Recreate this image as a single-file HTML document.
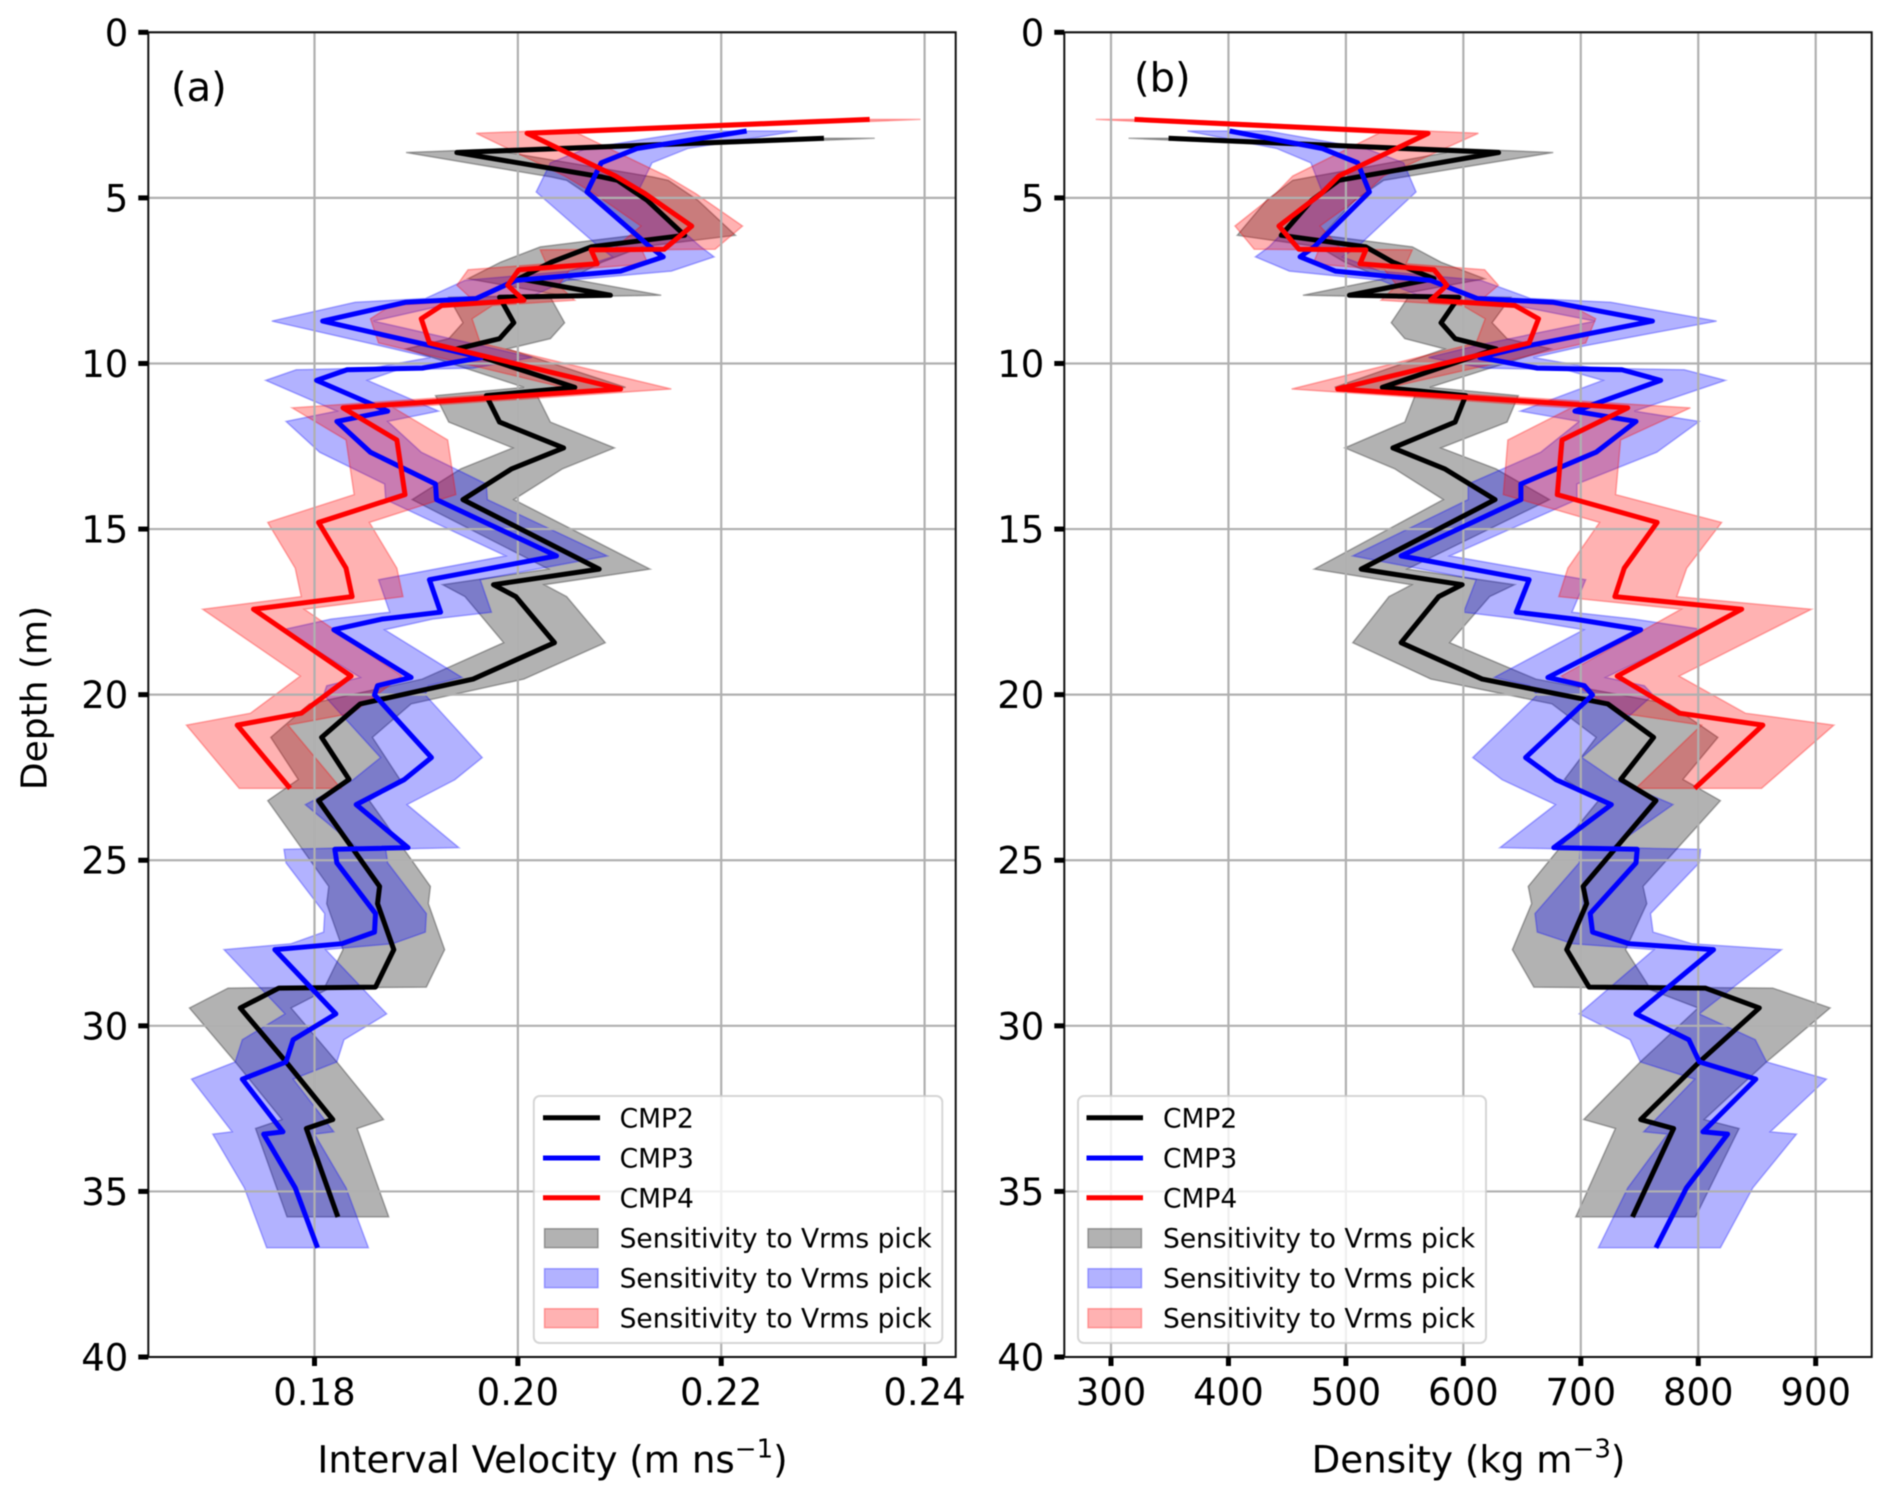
<!DOCTYPE html>
<html lang="en">
<head>
<meta charset="utf-8">
<title>Interval velocity and density versus depth</title>
<style>
  html, body { margin: 0; padding: 0; background: #fff; }
  svg { display: block; font-family: "DejaVu Sans", "Liberation Sans", sans-serif; fill: #000; filter: blur(0.5px); }
  .tick-text { font-size: 37px; }
  .axis-title { font-size: 37.2px; }
  .y-title { font-size: 36px; }
  .panel-letter { font-size: 40px; }
  .legend-text { font-size: 26.5px; }
</style>
</head>
<body>
<svg id="chart" width="1892" height="1500" viewBox="0 0 1892 1500" xmlns="http://www.w3.org/2000/svg">
  <rect x="0" y="0" width="1892" height="1500" fill="#fff"/>

  <g id="panel-a">
    <g id="a-bands"></g>
    <g id="a-grid"></g>
    <g id="a-lines"></g>
    <rect x="148.3" y="32.3" width="807.4" height="1324.7" fill="none" stroke="#111" stroke-width="2"/>
    <g id="a-ticks"></g>
    <text class="panel-letter" x="171" y="101">(a)</text>
    <text class="axis-title" x="552.5" y="1472.6" text-anchor="middle">Interval Velocity (m ns<tspan font-size="26" dy="-15">−1</tspan><tspan dy="15">)</tspan></text>
    <text class="axis-title y-title" transform="translate(46.5 698) rotate(-90)" text-anchor="middle">Depth (m)</text>

    <g>
      <rect x="533.8" y="1096" width="408.5" height="247" rx="6" ry="6" fill="#fff" fill-opacity="0.8" stroke="#ccc" stroke-opacity="0.8" stroke-width="2"/>
      <line x1="543" y1="1117.8" x2="600" y2="1117.8" stroke="#000" stroke-width="5"/>
      <text class="legend-text" x="619.6" y="1127.3">CMP2</text>
      <line x1="543" y1="1158" x2="600" y2="1158" stroke="#00f" stroke-width="5"/>
      <text class="legend-text" x="619.6" y="1167.5">CMP3</text>
      <line x1="543" y1="1197.8" x2="600" y2="1197.8" stroke="#f00" stroke-width="5"/>
      <text class="legend-text" x="619.6" y="1207.3">CMP4</text>
      <rect x="544.5" y="1228.7" width="53.5" height="19" fill="#000" fill-opacity="0.3" stroke="#000" stroke-opacity="0.3" stroke-width="1.5"/>
      <text class="legend-text" x="619.6" y="1247.5">Sensitivity to Vrms pick</text>
      <rect x="544.5" y="1268.7" width="53.5" height="19" fill="#00f" fill-opacity="0.3" stroke="#00f" stroke-opacity="0.3" stroke-width="1.5"/>
      <text class="legend-text" x="619.6" y="1287.5">Sensitivity to Vrms pick</text>
      <rect x="544.5" y="1308.7" width="53.5" height="19" fill="#f00" fill-opacity="0.3" stroke="#f00" stroke-opacity="0.3" stroke-width="1.5"/>
      <text class="legend-text" x="619.6" y="1327.5">Sensitivity to Vrms pick</text>
    </g>
  </g>

  <g id="panel-b">
    <g id="b-bands"></g>
    <g id="b-grid"></g>
    <g id="b-lines"></g>
    <rect x="1064.3" y="32.3" width="807.4" height="1324.7" fill="none" stroke="#111" stroke-width="2"/>
    <g id="b-ticks"></g>
    <text class="panel-letter" x="1134" y="91.5">(b)</text>
    <text class="axis-title" x="1468.5" y="1472.6" text-anchor="middle">Density (kg m<tspan font-size="26" dy="-15">−3</tspan><tspan dy="15">)</tspan></text>

    <g>
      <rect x="1078" y="1096" width="408" height="247" rx="6" ry="6" fill="#fff" fill-opacity="0.8" stroke="#ccc" stroke-opacity="0.8" stroke-width="2"/>
      <line x1="1086.5" y1="1117.8" x2="1143" y2="1117.8" stroke="#000" stroke-width="5"/>
      <text class="legend-text" x="1163" y="1127.3">CMP2</text>
      <line x1="1086.5" y1="1158" x2="1143" y2="1158" stroke="#00f" stroke-width="5"/>
      <text class="legend-text" x="1163" y="1167.5">CMP3</text>
      <line x1="1086.5" y1="1197.8" x2="1143" y2="1197.8" stroke="#f00" stroke-width="5"/>
      <text class="legend-text" x="1163" y="1207.3">CMP4</text>
      <rect x="1088" y="1228.7" width="53.5" height="19" fill="#000" fill-opacity="0.3" stroke="#000" stroke-opacity="0.3" stroke-width="1.5"/>
      <text class="legend-text" x="1163" y="1247.5">Sensitivity to Vrms pick</text>
      <rect x="1088" y="1268.7" width="53.5" height="19" fill="#00f" fill-opacity="0.3" stroke="#00f" stroke-opacity="0.3" stroke-width="1.5"/>
      <text class="legend-text" x="1163" y="1287.5">Sensitivity to Vrms pick</text>
      <rect x="1088" y="1308.7" width="53.5" height="19" fill="#f00" fill-opacity="0.3" stroke="#f00" stroke-opacity="0.3" stroke-width="1.5"/>
      <text class="legend-text" x="1163" y="1327.5">Sensitivity to Vrms pick</text>
    </g>
  </g>
</svg>

<script>
// ---- Data ----
const depthCmp2 = [3.2,3.63,4.37,4.47,5.07,6.13,6.48,6.94,7.44,7.94,8.0,8.77,9.25,9.56,10.72,10.97,11.77,12.55,13.18,14.11,16.21,16.68,17.04,18.43,19.53,20.28,21.29,22.56,23.2,25.79,26.31,27.7,28.83,28.86,29.46,31.09,32.83,33.1,35.77];
const velocityCmp2 = [.2301,.1940,.2083,.2098,.2127,.2164,.2072,.2033,.2001,.2091,.1982,.1996,.1982,.1940,.2056,.1969,.1982,.2045,.1994,.1946,.2080,.1976,.1998,.2036,.1956,.1845,.1807,.1834,.1804,.1864,.1862,.1878,.1860,.1765,.1727,.1772,.1818,.1792,.1823];
const densityCmp2 = [349,630,510,494,471,445,517,540,575,503,596,581,593,628,531,602,593,540,584,627,513,599,579,547,616,723,762,734,764,702,705,688,707,806,852,801,751,779,744];

const depthCmp3 = [2.98,3.51,3.94,4.82,6.48,6.78,7.21,7.49,8.04,8.15,8.72,9.46,9.82,10.14,10.19,10.51,11.44,11.75,12.68,13.64,14.11,15.81,16.53,17.51,17.72,18.04,19.48,19.73,20.01,21.9,22.57,23.32,24.62,24.67,25.08,26.61,27.17,27.52,27.7,29.64,30.42,31.09,31.61,33.2,33.27,34.89,36.7];
const velocityCmp3 = [.2225,.2117,.2082,.2068,.2130,.2143,.2101,.1998,.1959,.1890,.1808,.1914,.1964,.1906,.1832,.1802,.1872,.1822,.1855,.1919,.1920,.2038,.1913,.1924,.1866,.1819,.1895,.1862,.1859,.1915,.1888,.1841,.1892,.1820,.1822,.1860,.1859,.1827,.1761,.1821,.1779,.1772,.1729,.1769,.1750,.1781,.1803];
const densityCmp3 = [401,480,510,520,473,461,491,572,612,676,761,656,614,663,735,768,695,747,713,649,649,547,656,645,695,751,672,703,710,653,679,726,677,748,747,708,710,741,813,747,792,801,849,804,825,790,764];

const depthCmp4 = [2.63,3.05,4.34,4.87,5.85,6.55,6.57,6.99,7.17,7.64,8.09,8.25,8.65,9.38,10.77,11.34,12.31,13.96,14.8,16.18,17.04,17.42,19.44,20.56,20.92,22.83];
const velocityCmp4 = [.2346,.2009,.2096,.2125,.2171,.2144,.2072,.2078,.2001,.1990,.2006,.1925,.1905,.1913,.2101,.1828,.1881,.1889,.1804,.1831,.1837,.1740,.1836,.1787,.1724,.1776];
const densityCmp4 = [320,570,494,479,443,460,517,512,575,586,572,644,664,656,493,740,684,680,765,737,729,837,731,784,855,797];

const seriesNames = ['cmp2', 'cmp3', 'cmp4'];
const seriesColors = ['#000', '#00f', '#f00'];

const depthTicks = [0, 5, 10, 15, 20, 25, 30, 35, 40];
const velocityTicks = [0.18, 0.20, 0.22, 0.24];
const velocityTickLabels = ['0.18', '0.20', '0.22', '0.24'];
const densityTicks = [300, 400, 500, 600, 700, 800, 900];
const densityTickLabels = ['300', '400', '500', '600', '700', '800', '900'];

// Half-width of the velocity sensitivity band (m/ns) and density band spread.
const velocityBandHalfWidth = 0.005;
const densityLowerSlope = 0.036;
const densityLowerBase = 21.5;
const densityUpperSlope = 0.062;
const densityUpperBase = 7.5;

// ---- Axis functions ----
const NS = 'http://www.w3.org/2000/svg';
const plotTop = 32.3, plotBottom = 1357;
function yDepth(d) { return plotTop + d * (plotBottom - plotTop) / 40; }
function xVelocity(v) { return 314.5 + (v - 0.18) * 10168; }
function xDensity(r) { return 1111 + (r - 300) * 1.1745; }
function velocityLow(v) { return v - velocityBandHalfWidth; }
function velocityHigh(v) { return v + velocityBandHalfWidth; }
function densityLow(r) { return r - (densityLowerSlope * r + densityLowerBase); }
function densityHigh(r) { return r + (densityUpperSlope * r + densityUpperBase); }

function make(tag, parent) {
  const el = document.createElementNS(NS, tag);
  parent.appendChild(el);
  return el;
}
function pointsOf(values, depths, xFn) {
  return values.map((v, i) => xFn(v).toFixed(2) + ',' + yDepth(depths[i]).toFixed(2));
}

function drawPanel(prefix, seriesValues, seriesDepths, xFn, lowFn, highFn, xTicks, xTickLabels, left, right) {
  const bandGroup = document.getElementById(prefix + '-bands');
  const gridGroup = document.getElementById(prefix + '-grid');
  const lineGroup = document.getElementById(prefix + '-lines');
  const tickGroup = document.getElementById(prefix + '-ticks');

  seriesValues.forEach((values, s) => {
    const depths = seriesDepths[s];
    const lower = pointsOf(values.map(lowFn), depths, xFn);
    const upper = pointsOf(values.map(highFn), depths, xFn).reverse();
    const band = make('polygon', bandGroup);
    
    
    band.setAttribute('points', lower.concat(upper).join(' '));
    band.setAttribute('fill', seriesColors[s]);
    band.setAttribute('fill-opacity', '0.3');
    band.setAttribute('stroke', seriesColors[s]);
    band.setAttribute('stroke-opacity', '0.3');
    band.setAttribute('stroke-width', '1.5');

    const line = make('polyline', lineGroup);
    
    
    line.setAttribute('points', pointsOf(values, depths, xFn).join(' '));
    line.setAttribute('fill', 'none');
    line.setAttribute('stroke', seriesColors[s]);
    line.setAttribute('stroke-width', '5');
    line.setAttribute('stroke-linejoin', 'round');
    line.setAttribute('stroke-linecap', 'butt');
  });

  xTicks.forEach((t, i) => {
    const x = xFn(t);
    const grid = make('line', gridGroup);
    
    
    grid.setAttribute('x1', x); grid.setAttribute('x2', x);
    grid.setAttribute('y1', plotTop); grid.setAttribute('y2', plotBottom);
    grid.setAttribute('stroke', '#b0b0b0');
    grid.setAttribute('stroke-width', '2.2');

    const tick = make('line', tickGroup);
    
    
    tick.setAttribute('x1', x); tick.setAttribute('x2', x);
    tick.setAttribute('y1', plotBottom); tick.setAttribute('y2', plotBottom + 9);
    tick.setAttribute('stroke', '#000');
    tick.setAttribute('stroke-width', '5');

    const label = make('text', tickGroup);
    
    
    label.setAttribute('class', 'tick-text');
    label.setAttribute('x', x);
    label.setAttribute('y', 1405);
    label.setAttribute('text-anchor', 'middle');
    label.textContent = xTickLabels[i];
  });

  depthTicks.forEach((t) => {
    const y = yDepth(t);
    const grid = make('line', gridGroup);
    
    
    grid.setAttribute('x1', left); grid.setAttribute('x2', right);
    grid.setAttribute('y1', y); grid.setAttribute('y2', y);
    grid.setAttribute('stroke', '#b0b0b0');
    grid.setAttribute('stroke-width', '2.2');

    const tick = make('line', tickGroup);
    
    
    tick.setAttribute('x1', left - 10); tick.setAttribute('x2', left);
    tick.setAttribute('y1', y); tick.setAttribute('y2', y);
    tick.setAttribute('stroke', '#000');
    tick.setAttribute('stroke-width', '5');

    const label = make('text', tickGroup);
    
    
    label.setAttribute('class', 'tick-text');
    label.setAttribute('x', left - 20);
    label.setAttribute('y', y + 13.5);
    label.setAttribute('text-anchor', 'end');
    label.textContent = String(t);
  });
}

const allDepths = [depthCmp2, depthCmp3, depthCmp4];
drawPanel('a', [velocityCmp2, velocityCmp3, velocityCmp4], allDepths, xVelocity, velocityLow, velocityHigh, velocityTicks, velocityTickLabels, 148.3, 955.7);
drawPanel('b', [densityCmp2, densityCmp3, densityCmp4], allDepths, xDensity, densityLow, densityHigh, densityTicks, densityTickLabels, 1064.3, 1871.7);
</script>
</body>
</html>
